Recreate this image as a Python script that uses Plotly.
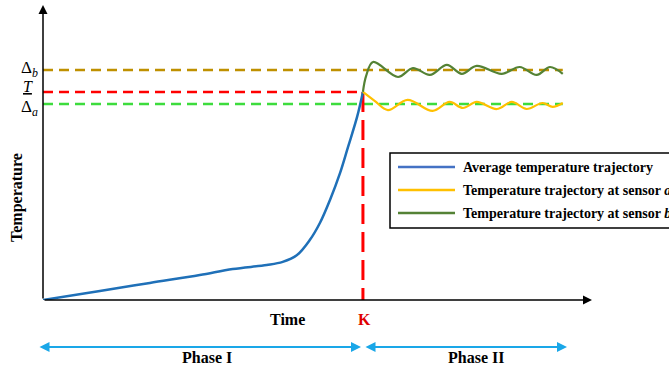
import plotly.graph_objects as go

# ---- data (time units, temperature units) ----
avg_time = [0.0, 1.07, 2.01, 2.95, 3.57, 4.21, 4.51, 4.78, 5.02, 5.21, 5.40, 5.59, 5.74, 5.91, 6.02]
avg_temp = [0.0, 0.043, 0.082, 0.120, 0.149, 0.168, 0.183, 0.216, 0.288, 0.370, 0.481, 0.611, 0.736, 0.880, 1.0]

a_time = [6.02, 6.24, 6.49, 6.86, 7.33, 7.65, 7.90, 8.16, 8.54, 8.82, 9.10, 9.40, 9.59, 9.78]
a_temp = [1.0, 0.957, 0.913, 0.962, 0.909, 0.952, 0.923, 0.952, 0.918, 0.952, 0.918, 0.947, 0.928, 0.947]

b_time = [6.02, 6.08, 6.21, 6.68, 6.96, 7.28, 7.60, 7.88, 8.16, 8.63, 8.97, 9.29, 9.54, 9.78]
b_temp = [1.0, 1.077, 1.144, 1.072, 1.115, 1.082, 1.130, 1.087, 1.125, 1.087, 1.120, 1.082, 1.120, 1.087]

K = 6.02
T_END = 9.78
DELTA_B = 1.106
T_BAR = 1.0
DELTA_A = 0.942
X_MAX = 10.33
Y_MAX = 1.418

legend_names = ["Average temperature trajectory",
                "Temperature trajectory at sensor <i>a</i>",
                "Temperature trajectory at sensor <i>b</i>"]

BLUE = "#1F70B8"
YELLOW = "#FFC000"
GREEN = "#548235"
GOLD = "#BF9000"
RED = "#FF0000"
LIME = "#3DDC3D"
SKY = "#1AA7E8"
SERIF = "Liberation Serif, Times New Roman, serif"

fig = go.Figure()

# reference levels
fig.add_trace(go.Scatter(x=[0, T_END], y=[DELTA_B, DELTA_B], mode="lines",
                         line=dict(color=GOLD, width=2.5, dash="10px,6px")))
fig.add_trace(go.Scatter(x=[0, K], y=[T_BAR, T_BAR], mode="lines",
                         line=dict(color=RED, width=2.5, dash="10px,6px")))
fig.add_trace(go.Scatter(x=[0, T_END], y=[DELTA_A, DELTA_A], mode="lines",
                         line=dict(color=LIME, width=2.5, dash="10px,6px")))
fig.add_trace(go.Scatter(x=[K, K], y=[T_BAR, 0], mode="lines",
                         line=dict(color=RED, width=3, dash="20px,8px")))

# trajectories
fig.add_trace(go.Scatter(x=avg_time, y=avg_temp, mode="lines", name=legend_names[0],
                         line=dict(color=BLUE, width=2.5, shape="spline", smoothing=1.0)))
fig.add_trace(go.Scatter(x=a_time, y=a_temp, mode="lines", name=legend_names[1],
                         line=dict(color=YELLOW, width=2.2, shape="spline", smoothing=1.0)))
fig.add_trace(go.Scatter(x=b_time, y=b_temp, mode="lines", name=legend_names[2],
                         line=dict(color=GREEN, width=2.2, shape="spline", smoothing=1.0)))

# axes arrows
fig.add_annotation(x=0, y=Y_MAX, ax=0, ay=0, xref="x", yref="y", axref="x", ayref="y",
                   showarrow=True, arrowhead=2, arrowsize=1.2, arrowwidth=1.5, arrowcolor="black", text="")
fig.add_annotation(x=X_MAX, y=0, ax=0, ay=0, xref="x", yref="y", axref="x", ayref="y",
                   showarrow=True, arrowhead=2, arrowsize=1.2, arrowwidth=1.5, arrowcolor="black", text="")

# pixel -> paper helpers for decorations
L, B, W, H = 43, 68, 549, 295
def px(x): return (x - L) / W
def py(y): return (300 - y) / H

# phase arrows
for x0, x1 in [(38, 361), (364, 567)]:
    fig.add_annotation(x=px(x1), y=py(347), ax=x0 - x1, ay=0, xref="paper", yref="paper",
                       showarrow=True, arrowhead=2, startarrowhead=2, arrowside="end+start",
                       arrowsize=1, arrowwidth=2, arrowcolor=SKY, text="")

def txt(x, y, s, size=15, color="black", xanchor="center", angle=0):
    fig.add_annotation(x=px(x), y=py(y), xref="paper", yref="paper", text=s, showarrow=False,
                       font=dict(family=SERIF, size=size, color=color),
                       xanchor=xanchor, yanchor="middle", textangle=angle)

txt(287, 319, "<b>Time</b>", size=16)
txt(364, 319, "<b>K</b>", size=16, color="#E00000")
txt(207, 357, "<b>Phase I</b>", size=16)
txt(476, 357, "<b>Phase II</b>", size=16)
txt(17, 198, "<b>Temperature</b>", size=16, angle=-90)
txt(40, 69, "Δ<sub><i>b</i></sub>", size=17, xanchor="right")
txt(35, 87, "<span style='text-decoration:underline'><i>T</i></span>", size=16, xanchor="right")
txt(40, 108, "Δ<sub><i>a</i></sub>", size=17, xanchor="right")

# legend box
fig.add_shape(type="rect", xref="paper", yref="paper", x0=px(390), x1=px(675), y0=py(228), y1=py(153),
              line=dict(color="black", width=1.5), fillcolor="white")
leg_colors = ["#4472C4", YELLOW, GREEN]
for i, (c, n) in enumerate(zip(leg_colors, legend_names)):
    yy = 167 + 23 * i
    fig.add_shape(type="line", xref="paper", yref="paper", x0=px(398), x1=px(455), y0=py(yy), y1=py(yy),
                  line=dict(color=c, width=2.5))
    fig.add_annotation(x=px(461), y=py(yy), xref="paper", yref="paper", text="<b>" + n + "</b>",
                       showarrow=False, xanchor="left", yanchor="middle",
                       font=dict(family=SERIF, size=14, color="black"))

fig.update_xaxes(visible=False, range=[0, X_MAX])
fig.update_yaxes(visible=False, range=[0, Y_MAX])
fig.update_layout(width=669, height=368, margin=dict(l=L, r=669 - 592, t=5, b=B, autoexpand=False),
                  plot_bgcolor="white", paper_bgcolor="white", showlegend=False)

fig.write_html("out.html", config={"displayModeBar": False},
               post_script="document.body.style.margin='0';")
